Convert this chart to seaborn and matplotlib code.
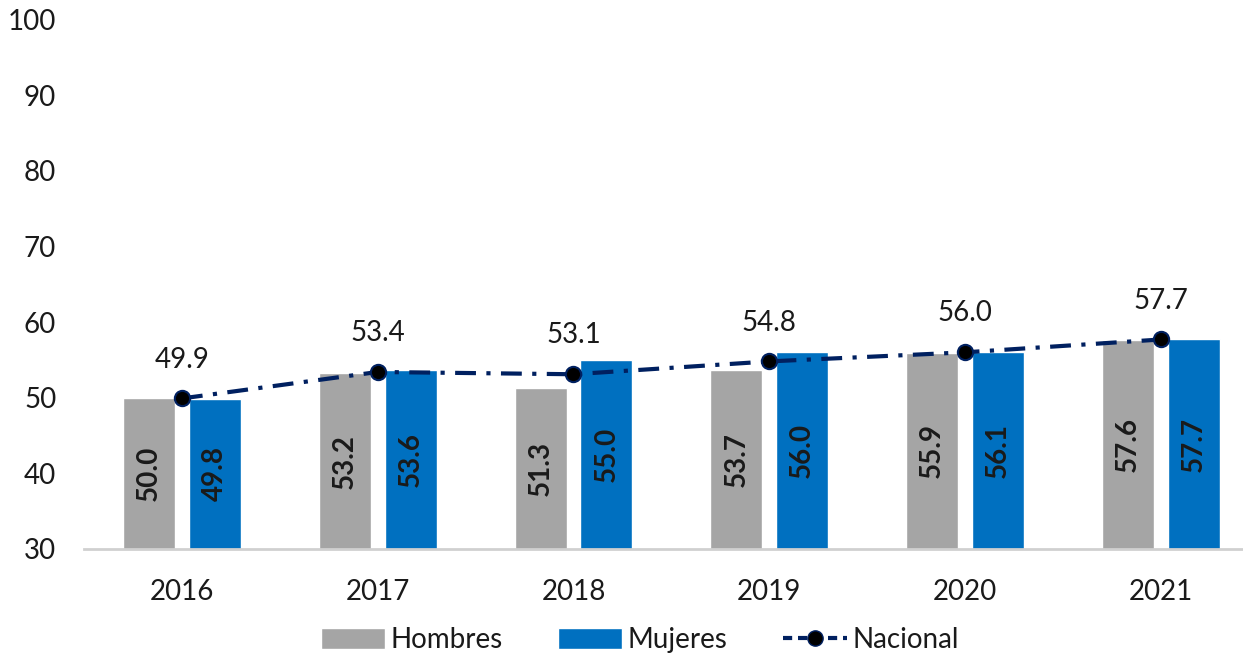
import matplotlib
matplotlib.use("Agg")
import matplotlib.pyplot as plt
from matplotlib.patches import Patch
from matplotlib.lines import Line2D
import seaborn as sns
import pandas as pd

# chart values
years = ["2016", "2017", "2018", "2019", "2020", "2021"]
hombres = [50.0, 53.2, 51.3, 53.7, 55.9, 57.6]
mujeres = [49.8, 53.6, 55.0, 56.0, 56.1, 57.7]
nacional = [49.9, 53.4, 53.1, 54.8, 56.0, 57.7]
series_names = ["Hombres", "Mujeres"]
y_ticks = [30, 40, 50, 60, 70, 80, 90, 100]

GRAY = "#A5A5A5"
BLUE = "#0070C0"
NAVY = "#002060"
TXT = "#1a1a1a"

df = pd.DataFrame({
    "year": years * 2,
    "sexo": [series_names[0]] * len(years) + [series_names[1]] * len(years),
    "valor": hombres + mujeres,
})

sns.set_theme(style="white")
plt.rcParams["font.family"] = ["Lato", "DejaVu Sans"]

fig = plt.figure(figsize=(12.43, 6.62), dpi=100)
ax = fig.add_axes([0.0676, 0.171, 0.9324, 0.799])

sns.barplot(data=df, x="year", y="valor", hue="sexo", order=years,
            hue_order=series_names, palette=[GRAY, BLUE],
            width=0.672, gap=0.21, saturation=1, ax=ax, legend=False)

ymin = 30
# rotated labels centred in the visible part of each bar
for cont in ax.containers:
    for rect in cont:
        h = rect.get_height()
        ax.text(rect.get_x() + rect.get_width() / 2, (ymin + h) / 2, f"{h:.1f}",
                rotation=90, ha="center", va="center", fontsize=20,
                fontweight="bold", color=TXT)

xs = list(range(len(years)))
ax.plot(xs, nacional, color=NAVY, lw=3, linestyle=(0, (5, 2.5, 1, 2.5)),
        marker="o", markersize=11, markerfacecolor="black",
        markeredgecolor=NAVY, markeredgewidth=1.5, zorder=5)
for x, v in zip(xs, nacional):
    ax.annotate(f"{v:.1f}", (x, v), xytext=(0, 28), textcoords="offset points",
                ha="center", va="center", fontsize=20, color=TXT)

ax.set_ylim(ymin, 100)
ax.set_xlim(-0.5, 5.42)
ax.set_yticks(y_ticks)
ax.set_xlabel("")
ax.set_ylabel("")
ax.tick_params(axis="y", length=0, pad=20, labelsize=20, labelcolor=TXT)
ax.tick_params(axis="x", length=0, pad=22, labelsize=20, labelcolor=TXT)
for side in ["left", "right", "top"]:
    ax.spines[side].set_visible(False)
ax.spines["bottom"].set_color("#D0D0D0")
ax.spines["bottom"].set_linewidth(2)

handles = [
    Patch(facecolor=GRAY, label="Hombres"),
    Patch(facecolor=BLUE, label="Mujeres"),
    Line2D([0], [0], color=NAVY, lw=3, linestyle=(0, (2.2, 1.4)), marker="o",
           markersize=11, markerfacecolor="black", markeredgecolor=NAVY,
           label="Nacional"),
]
fig.legend(handles=handles, loc="center", bbox_to_anchor=(0.515, 0.033), ncol=3,
           frameon=False, fontsize=20, handlelength=2.3, handleheight=0.75,
           handletextpad=0.2, columnspacing=2.0, labelcolor=TXT)

fig.savefig("out.png", dpi=100)
